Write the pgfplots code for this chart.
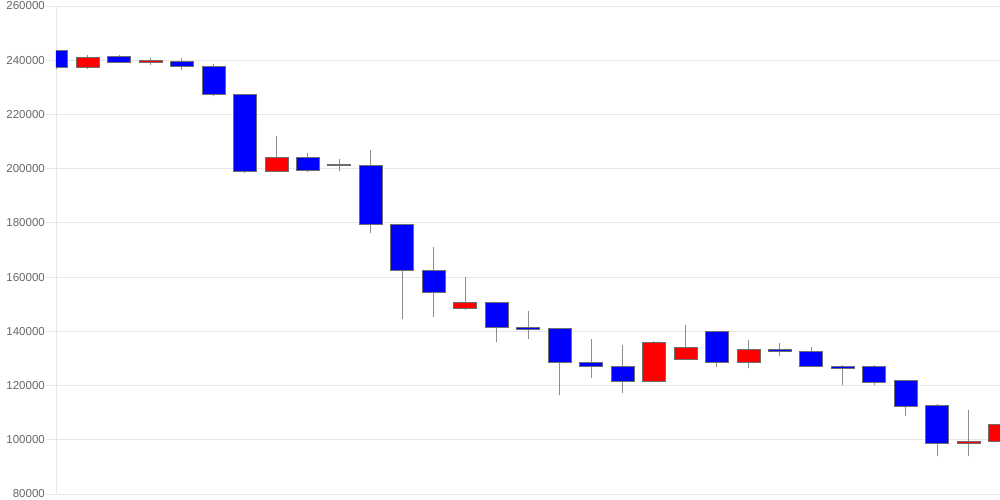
\documentclass[border=0pt]{standalone}
\usepackage{pgfplots}
\usepackage{pgfplotstable}
\pgfplotsset{compat=1.18}
\usepackage{fontspec}
\setmainfont{Liberation Sans}
\definecolor{cblue}{HTML}{0000FF}
\definecolor{cred}{HTML}{FF0000}
\definecolor{gridc}{HTML}{E6E6E6}
\definecolor{wick}{HTML}{8C8C8C}
\definecolor{edge}{HTML}{6E6E6E}
\definecolor{labc}{HTML}{666666}

% x open high low close
\pgfplotstableread{
x o h l c
0 243500 243500 236600 237400
1 237400 242100 236700 241250
2 241350 242100 239400 239400
3 239100 241000 238300 240000
4 239630 240700 236450 237930
5 237930 238780 226700 227350
6 227450 227450 198300 199050
7 199050 211950 199000 204350
8 204350 205950 198800 199400
9 201500 203600 199050 201300
10 201250 206700 176150 179400
11 179400 179400 144550 162650
12 162650 171000 145200 154400
13 148650 159900 147900 150850
14 150850 150850 135950 141350
15 141400 147600 137300 140800
16 141000 141000 116400 128700
17 128700 137300 122650 126970
18 127240 135100 117100 121700
19 121700 136570 121700 136100
20 129800 142470 129800 134250
21 139900 139900 126700 128570
22 128570 136820 126350 133500
23 133400 135700 131000 132650
24 132770 134250 126900 127080
25 127300 127500 120070 126350
26 126970 127700 120070 121070
27 122050 122050 108800 112450
28 112570 113330 93900 98800
29 98560 111100 93900 99560
30 99400 107800 96350 105570
}\ohlc

\begin{document}
\begin{tikzpicture}
\begin{axis}[
  scale only axis,
  width=944pt, height=488pt,
  xmin=0, xmax=30,
  ymin=80000, ymax=260000,
  xtick=\empty,
  ytick={80000,100000,...,260000},
  scaled y ticks=false,
  /pgf/number format/assume math mode=true,
  yticklabel style={/pgf/number format/fixed, /pgf/number format/1000 sep={}, font=\fontsize{11.5}{12}\selectfont, text=labc, inner sep=1pt},
  ymajorgrids,
  major grid style={draw=gridc, line width=0.8pt},
  axis x line*=bottom, axis y line*=left,
  axis line style={draw=gridc, line width=0.8pt, -},
  tick align=outside,
  major tick length=10pt,
  tick style={draw=gridc, line width=0.8pt},
  clip=true,
]
\pgfplotsforeachungrouped \i in {0,...,30}{%
  \pgfplotstablegetelem{\i}{o}\of\ohlc\edef\vo{\pgfplotsretval}%
  \pgfplotstablegetelem{\i}{h}\of\ohlc\edef\vh{\pgfplotsretval}%
  \pgfplotstablegetelem{\i}{l}\of\ohlc\edef\vl{\pgfplotsretval}%
  \pgfplotstablegetelem{\i}{c}\of\ohlc\edef\vc{\pgfplotsretval}%
  \ifnum\vo>\vc\relax
    \def\col{cblue}\edef\lo{\vc}\edef\hi{\vo}%
  \else
    \def\col{cred}\edef\lo{\vo}\edef\hi{\vc}%
  \fi
  \pgfmathsetmacro\xl{\i-0.365}%
  \pgfmathsetmacro\xr{\i+0.365}%
  \edef\temp{%
    \noexpand\addplot[draw=wick, line width=0.8pt, mark=none, forget plot] coordinates {(\i,\vl) (\i,\vh)};%
    \noexpand\addplot[draw=edge, line width=0.5pt, fill=\col, mark=none, forget plot] coordinates {(\xl,\lo) (\xr,\lo) (\xr,\hi) (\xl,\hi)} -- cycle;%
  }%
  \temp
}
\end{axis}
\pgfresetboundingbox
\useasboundingbox (-56pt,-6pt) rectangle (944pt,494pt);
\end{tikzpicture}
\end{document}
